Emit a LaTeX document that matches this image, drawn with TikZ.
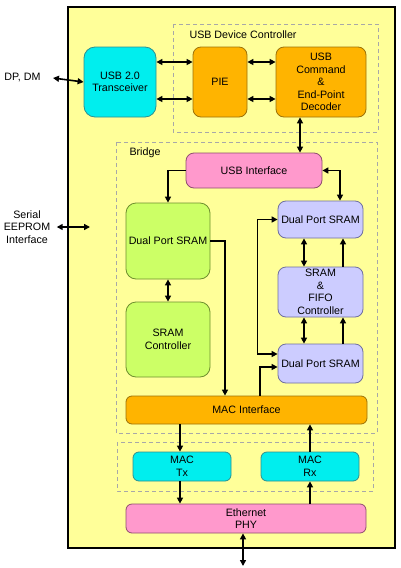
\documentclass[tikz,border=0pt]{standalone}
\usepackage{fontspec}
\setmainfont{Liberation Sans}
\usetikzlibrary{arrows.meta,positioning,calc}
\definecolor{chip}{HTML}{FFFF99}
\definecolor{cyanf}{HTML}{00EEEE}
\definecolor{cyand}{HTML}{2E8F8F}
\definecolor{orangef}{HTML}{FFB400}
\definecolor{oranged}{HTML}{9C7208}
\definecolor{pinkf}{HTML}{FF99CC}
\definecolor{pinkd}{HTML}{8F4F6F}
\definecolor{greenf}{HTML}{CCFF66}
\definecolor{greend}{HTML}{6E8F2E}
\definecolor{lavf}{HTML}{CCCCFF}
\definecolor{lavd}{HTML}{6F6F9F}
\definecolor{dashc}{HTML}{A8A8A8}

\begin{document}
\begin{tikzpicture}[x=1pt, y=-1pt,
      font=\fontsize{10.7}{12.5}\selectfont,
      blk/.style={rounded corners=8pt, line width=0.8pt, align=center, inner sep=0pt},
      cyanblk/.style={blk, draw=cyand, fill=cyanf},
      orangeblk/.style={blk, draw=oranged, fill=orangef},
      pinkblk/.style={blk, draw=pinkd, fill=pinkf},
      greenblk/.style={blk, draw=greend, fill=greenf},
      lavblk/.style={blk, draw=lavd, fill=lavf},
      group/.style={draw=dashc, dash pattern=on 4pt off 3pt, line width=0.7pt},
      arr/.style={-{Triangle[length=6pt, width=6pt]}, line width=1.6pt},
      biarr/.style={{Triangle[length=6pt, width=6pt]}-{Triangle[length=6pt, width=6pt]}, line width=1.6pt}]
    \useasboundingbox (0,0) rectangle (400,568);
    % chip outline and groups
    \draw[line width=2pt, fill=chip] (68,7) rectangle (395,548);
    \draw[group] (173,24) rectangle (378,132);
    \draw[group] (116,142) rectangle (377,433);
    \draw[group] (117,442) rectangle (373,491);
    \node[anchor=west] (udclabel) at (186,35) {USB Device Controller};
    \node[anchor=west] (brlabel) at (126,153) {Bridge};
    % outside labels
    \node[anchor=east] (dp) at (44,78) {DP, DM};
    \node[align=center] (eeprom) at (27,227) {Serial\\EEPROM\\Interface};
    \coordinate (eepromend) at (90,227);
    \coordinate (phyend) at (243,566);
    % usb device controller
    \node[cyanblk, rounded corners=11pt, minimum width=72pt, minimum height=70pt] (trans) at (120,82) {USB 2.0\\Transceiver};
    \node[orangeblk, minimum width=54pt, minimum height=70pt] (pie) at (220,82) {PIE};
    \node[orangeblk, minimum width=90pt, minimum height=70pt] (dec) at (321,82) {USB\\Command\\\&\\End-Point\\Decoder};
    % bridge
    \node[pinkblk, minimum width=136pt, minimum height=35pt] (usbif) at (254,170.5) {USB Interface};
    \node[greenblk, rounded corners=10pt, minimum width=84pt, minimum height=76pt] (dps1) at (168,241) {Dual Port SRAM};
    \node[greenblk, rounded corners=10pt, minimum width=84pt, minimum height=75pt] (sramc) at (168,339.5) {SRAM\\Controller};
    \node[lavblk, minimum width=85pt, minimum height=37pt] (dps2) at (320.5,219.5) {Dual Port SRAM};
    \node[lavblk, minimum width=85pt, minimum height=50pt] (fifo) at (320.5,292) {SRAM\\\&\\FIFO\\Controller};
    \node[lavblk, minimum width=85pt, minimum height=39pt] (dps3) at (320.5,363.5) {Dual Port SRAM};
    \node[orangeblk, rounded corners=6pt, minimum width=241pt, minimum height=28pt] (macif) at (246.5,410) {MAC Interface};
    % mac and phy
    \node[cyanblk, rounded corners=6pt, minimum width=98pt, minimum height=29pt] (mactx) at (182,466.5) {MAC\\Tx};
    \node[cyanblk, rounded corners=6pt, minimum width=98pt, minimum height=29pt] (macrx) at (310,466.5) {MAC\\Rx};
    \node[pinkblk, rounded corners=6pt, minimum width=240pt, minimum height=29pt] (phy) at (246,518.5) {Ethernet\\PHY};
    % connectors
    \draw[biarr] ([xshift=9pt]dp.east) -- (trans.west);
    \draw[biarr] ([xshift=3pt]eeprom.east) -- (eepromend);
    \draw[biarr] (trans.east |- 0,62) -- (pie.west |- 0,62);
    \draw[biarr] (trans.east |- 0,99) -- (pie.west |- 0,99);
    \draw[biarr] (pie.east |- 0,62) -- (dec.west |- 0,62);
    \draw[biarr] (pie.east |- 0,99) -- (dec.west |- 0,99);
    \draw[biarr] (300,0 |- dec.south) -- (300,0 |- usbif.north);
    \draw[arr] (usbif.west) -| (dps1.north);
    \draw[biarr] (usbif.east) -| (340,0 |- dps2.north);
    \draw[biarr] (dps1.south) -- (sramc.north);
    \draw[arr] (dps1.east) -| (225,0 |- macif.north);
    \draw[biarr] (dps2.west) -- ++(-20,0) |- (dps3.west |- 0,354);
    \draw[arr] (260,0 |- macif.north) |- (dps3.west |- 0,367);
    \draw[biarr] (304,0 |- dps2.south) -- (304,0 |- fifo.north);
    \draw[arr] (343,0 |- fifo.north) -- (343,0 |- dps2.south);
    \draw[biarr] (304,0 |- fifo.south) -- (304,0 |- dps3.north);
    \draw[arr] (343,0 |- dps3.north) -- (343,0 |- fifo.south);
    \draw[arr] (180,0 |- macif.south) -- (180,0 |- mactx.north);
    \draw[arr] (macrx.north) -- (310,0 |- macif.south);
    \draw[arr] (180,0 |- mactx.south) -- (180,0 |- phy.north);
    \draw[arr] (310,0 |- phy.north) -- (macrx.south);
    \draw[biarr] (243,0 |- phy.south) -- (phyend);
  \end{tikzpicture}
\end{document}
